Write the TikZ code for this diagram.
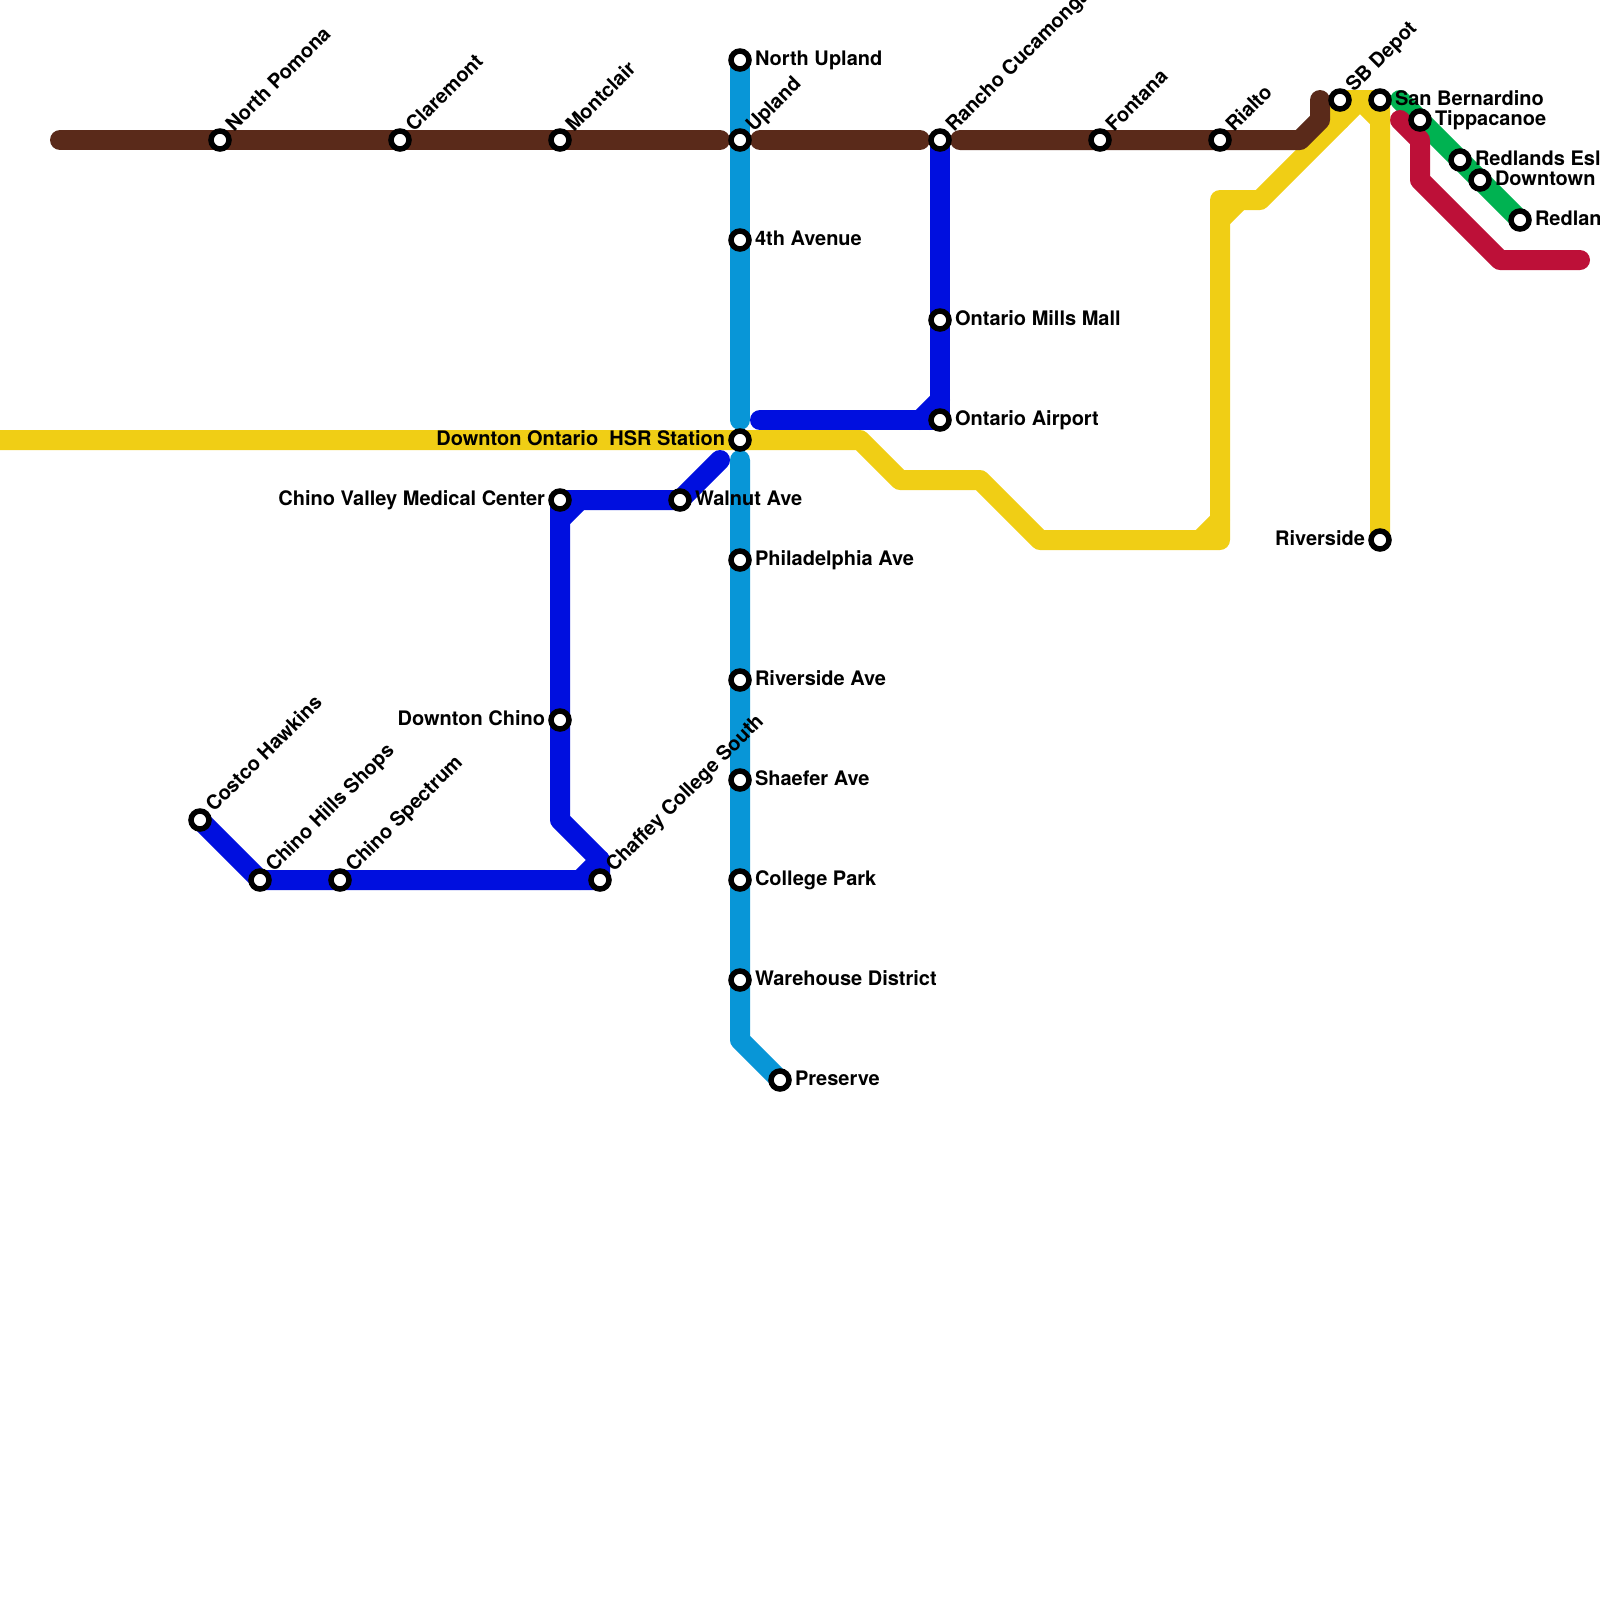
\documentclass[tikz,border=0pt]{standalone}
\usepackage{fontspec}
\setmainfont{TeX Gyre Heros}
\usepackage{xcolor}
\usetikzlibrary{backgrounds}
\definecolor{linebrown}{HTML}{5A2A1A}
\definecolor{lineyellow}{HTML}{F0CE15}
\definecolor{linesky}{HTML}{0896D7}
\definecolor{lineblue}{HTML}{000FDF}
\definecolor{linegreen}{HTML}{00B251}
\definecolor{linered}{HTML}{BD1038}

\begin{document}
\begin{tikzpicture}[x=.2cm,y=-.2cm,
  stn/.style={circle,draw=black,fill=white,line width=.55mm,inner sep=0pt,outer sep=0pt,minimum size=1.8mm},
  rail/.style={line width=2mm,line cap=round,line join=round},
  lbl/.style={font=\fontsize{5.69pt}{6pt}\selectfont\bfseries,inner sep=0pt,outer sep=0pt},
  lblr/.style={lbl,anchor=base west,xshift=1.5mm,yshift=-.55mm},
  lbll/.style={lbl,anchor=base east,xshift=-1.5mm,yshift=-.55mm},
  lbld/.style={lbl,anchor=base west,rotate=45,xshift=1.5mm,yshift=-.5mm}]
 \useasboundingbox (0,0) rectangle (80,80);
 % stations with the label on the right
 \foreach \n/\x/\y/\txt in {nupland/37/3/North Upland, fourth/37/12/4th Avenue, mills/47/16/Ontario Mills Mall,
   airport/47/21/Ontario Airport, walnut/34/25/Walnut Ave, phila/37/28/Philadelphia Ave, rivave/37/34/Riverside Ave,
   shaefer/37/39/Shaefer Ave, college/37/44/College Park, warehouse/37/49/Warehouse District, preserve/39/54/Preserve,
   sanb/69/5/San Bernardino, tippe/71/6/Tippacanoe, esl/73/8/Redlands Esl, downtown/74/9/Downtown, redlands/76/11/Redlands}{
   \node[stn] (\n) at (\x,\y) {};
   \node[lblr] (\n-t) at (\n.center) {\txt};
 }
 % stations with the label on the left
 \foreach \n/\x/\y/\txt in {hsr/37/22/Downton Ontario\ \ HSR Station, cvmc/28/25/Chino Valley Medical Center,
   dchino/28/36/Downton Chino, riverside/69/27/Riverside}{
   \node[stn] (\n) at (\x,\y) {};
   \node[lbll] (\n-t) at (\n.center) {\txt};
 }
 % stations with the slanted label
 \foreach \n/\x/\y/\txt in {npomona/11/7/North Pomona, claremont/20/7/Claremont, montclair/28/7/Montclair, upland/37/7/Upland,
   rancho/47/7/Rancho Cucamonga, fontana/55/7/Fontana, rialto/61/7/Rialto, sbdepot/67/5/SB Depot,
   costco/10/41/Costco Hawkins, hills/13/44/Chino Hills Shops, spectrum/17/44/Chino Spectrum, chaffey/30/44/Chaffey College South}{
   \node[stn] (\n) at (\x,\y) {};
   \node[lbld] (\n-t) at (\n.center) {\txt};
 }
 % bends and free ends
 \foreach \n/\x/\y in {ba/3/7, bb/36/7, bc/38/7, bd/46/7, be/48/7, bf/65/7, bg/66/6, bh/66/5,
   ya/0/22, yb/43/22, yc/45/24, yd/49/24, ye/52/27, yf/61/27, yg/60/27, yh/61/26, yi/61/10, yj/61/11, yk/62/10, yl/63/10, ym/67/6, yn/68/5, yo/69/6,
   ka/37/21, kb/37/23, kc/37/52,
   ua/30/43, ub/29/44, uc/28/41, ud/28/26, ue/29/25, uf/36/23, ug/38/21, uh/46/21, ui/47/20,
   ga/70/5, ra/70/6, rb/71/7, rc/71/9, rd/75/13, re/79/13}{
   \coordinate (\n) at (\x,\y);
 }
 \begin{scope}[on background layer]
  \draw[rail,linegreen] (ga) -- (redlands.center);
  \draw[rail,linered] (ra) -- (rb) -- (rc) -- (rd) -- (re);
  \draw[rail,lineyellow,line cap=butt] (ya) -- (hsr.center) -- (yb) -- (yc) -- (yd) -- (ye) -- (yf) -- (yi) -- (yl) -- (yn) -- (sanb.center) -- (riverside.center);
  \draw[rail,lineyellow] (yg) -- (yh);
  \draw[rail,lineyellow] (yj) -- (yk);
  \draw[rail,lineyellow] (ym) -- (sbdepot.center) -- (yn) -- (yo);
  \draw[rail,linesky] (nupland.center) -- (ka);
  \draw[rail,linesky] (kb) -- (kc) -- (preserve.center);
  \draw[rail,lineblue] (costco.center) -- (hills.center) -- (chaffey.center) -- (ua) -- (uc) -- (cvmc.center) -- (walnut.center) -- (uf);
  \draw[rail,lineblue] (ub) -- (ua);
  \draw[rail,lineblue] (ud) -- (ue);
  \draw[rail,lineblue] (rancho.center) -- (airport.center) -- (ug);
  \draw[rail,lineblue] (uh) -- (ui);
  \draw[rail,linebrown] (ba) -- (bb);
  \draw[rail,linebrown] (bc) -- (bd);
  \draw[rail,linebrown] (be) -- (bf) -- (bg) -- (bh);
 \end{scope}
\end{tikzpicture}
\end{document}
